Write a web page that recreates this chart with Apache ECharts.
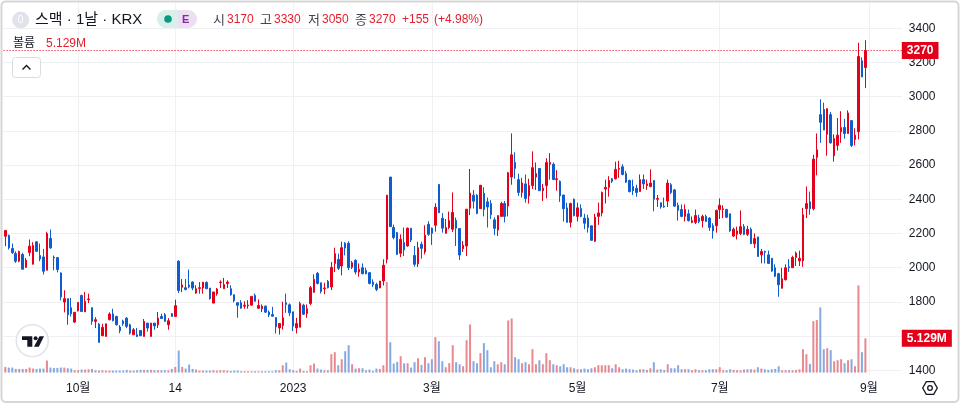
<!DOCTYPE html>
<html><head><meta charset="utf-8">
<style>html,body{margin:0;padding:0;background:#fff}#c{width:960px;height:404px}</style>
<script src="https://cdn.jsdelivr.net/npm/echarts@6/dist/echarts.min.js"></script>
</head><body><div id="c"></div>
<script>
// [open, close, low, high], one row per trading day
const ohlc = [
[2184,2218,2126,2218],[2188,2116,2106,2194],[2112,2087,2081,2141],[2083,2038,2028,2096],[2038,2094,2032,2100],
[2077,1991,1991,2087],[2002,2044,1999,2057],[2089,2126,2067,2165],[2020,2130,2020,2149],[2151,2096,2092,2153],
[2071,2051,2038,2141],[2063,1979,1960,2110],[1985,2200,1985,2210],[2171,2116,2110,2223],[2061,2057,1985,2071],
[2059,1989,1973,2059],[1969,1829,1809,1973],[1799,1819,1739,1868],[1819,1725,1666,1819],[1766,1731,1715,1823],
[1682,1739,1676,1739],[1748,1797,1744,1797],[1838,1744,1744,1842],[1742,1803,1742,1858],[1813,1817,1793,1848],
[1766,1686,1666,1766],[1686,1696,1647,1711],[1670,1563,1563,1676],[1602,1651,1602,1672],[1598,1672,1598,1672],
[1696,1729,1692,1739],[1729,1690,1686,1760],[1715,1666,1662,1719],[1653,1631,1617,1664],[1688,1672,1660,1696],
[1705,1657,1647,1711],[1666,1617,1608,1672],[1608,1637,1608,1647],[1608,1598,1594,1647],[1633,1602,1602,1633],
[1598,1686,1598,1700],[1676,1647,1627,1676],[1598,1676,1598,1676],[1676,1660,1637,1676],[1666,1705,1647,1741],
[1715,1703,1700,1731],[1725,1686,1686,1735],[1666,1690,1637,1705],[1731,1715,1715,1735],[1715,1778,1715,1813],
[2038,1866,1852,2044],[1885,1899,1858,1934],[1883,1872,1868,1934],[1899,1887,1879,1989],[1916,1881,1868,1920],
[1852,1877,1848,1897],[1879,1883,1848,1916],[1881,1916,1848,1916],[1914,1877,1877,1920],[1881,1819,1813,1881],
[1793,1858,1793,1858],[1848,1875,1836,1881],[1913,1916,1881,1926],[1877,1901,1877,1940],[1907,1916,1881,1926],
[1877,1842,1836,1897],[1842,1807,1797,1842],[1795,1780,1707,1797],
[1795,1763,1760,1810],[1775,1781,1760,1804],[1777,1781,1760,1810],[1781,1832,1779,1832],[1838,1804,1802,1849],
[1763,1779,1760,1814],[1760,1775,1740,1785],[1775,1740,1736,1779],[1740,1724,1711,1750],[1726,1716,1716,1771],
[1709,1654,1615,1709],[1648,1674,1609,1674],[1662,1707,1638,1801],[1795,1785,1736,1848],[1783,1736,1717,1791],
[1742,1658,1629,1742],[1648,1674,1615,1707],[1652,1791,1652,1801],[1781,1728,1724,1789],[1732,1760,1707,1785],
[1791,1883,1781,1893],[1857,1932,1853,1961],[1967,1908,1902,1975],[1912,1861,1849,1912],[1877,1881,1845,1912],
[1920,1883,1879,1928],[1887,2002,1869,2033],[2025,2082,1975,2117],[2049,1996,1986,2082],[2010,2117,1955,2152],
[2143,2115,2072,2150],[2143,2000,1986,2154],[2002,2029,1992,2039],[2043,1975,1961,2049],[1975,1990,1947,2025],
[2000,1965,1961,2025],[1984,1965,1961,2000],[1971,1908,1902,1975],[1916,1900,1887,1932],[1902,1873,1863,1912],
[1881,1922,1881,1922],[1922,2014,1896,2049],[2049,2424,2025,2424],[2530,2240,2240,2530],[2235,2176,2166,2252],
[2205,2078,2074,2209],[2084,2166,2062,2195],[2147,2104,2068,2235],[2127,2231,2123,2235],[2231,2162,2150,2231],
[2072,2020,2006,2127],[2023,2117,2004,2152],[2137,2113,2053,2152],[2092,2190,2078,2248],[2254,2195,2186,2272],
[2231,2201,2133,2235],[2248,2354,2211,2377],[2487,2321,2321,2487],[2289,2231,2205,2319],[2201,2235,2201,2284],
[2235,2276,2225,2328],[2225,2323,2209,2440],[2276,2231,2127,2293],[2229,2074,2045,2229],[2111,2131,2092,2156],
[2127,2342,2068,2342],[2348,2436,2307,2577],[2424,2389,2346,2454],[2424,2317,2313,2430],
[2345,2482,2345,2482],[2435,2340,2300,2470],[2385,2355,2235,2410],[2375,2310,2285,2395],[2280,2230,2190,2295],
[2220,2305,2185,2305],[2300,2375,2300,2385],[2375,2300,2265,2390],[2360,2555,2300,2560],[2530,2660,2485,2785],
[2615,2580,2520,2675],[2515,2440,2420,2550],[2440,2495,2410,2525],[2490,2405,2380,2545],[2420,2480,2375,2520],
[2480,2585,2460,2680],[2530,2550,2455,2615],[2580,2450,2450,2580],[2450,2465,2390,2490],[2480,2615,2405,2640],
[2605,2615,2515,2670],[2605,2515,2515,2615],[2515,2520,2450,2570],[2505,2420,2385,2510],[2425,2345,2270,2425],
[2350,2265,2265,2380],[2265,2375,2235,2380],[2400,2305,2300,2405],[2300,2350,2270,2380],[2345,2300,2295,2370],
[2290,2260,2225,2315],[2290,2235,2205,2310],[2245,2160,2160,2245],[2155,2295,2150,2315],[2300,2320,2250,2380],
[2320,2440,2300,2445],[2460,2470,2375,2515],[2470,2510,2415,2535],[2520,2505,2495,2525],[2520,2575,2515,2620],
[2575,2580,2525,2625],[2590,2545,2540,2605],[2550,2500,2495,2565],[2510,2445,2440,2515],[2475,2450,2425,2515],
[2465,2440,2415,2485],[2445,2515,2445,2545],[2515,2490,2460,2545],[2480,2490,2455,2515],[2475,2495,2470,2575],
[2510,2400,2330,2510],[2400,2405,2355,2425],[2380,2355,2345,2380],[2360,2355,2350,2410],[2390,2495,2355,2515],
[2485,2440,2430,2495],[2455,2360,2355,2460],[2365,2335,2275,2380],[2340,2300,2295,2370],[2300,2340,2270,2370],
[2315,2275,2270,2340],[2265,2275,2260,2300],[2265,2305,2255,2340],[2290,2270,2260,2310],[2275,2300,2235,2310],
[2300,2270,2270,2310],[2290,2235,2215,2295],[2245,2215,2170,2260],[2245,2335,2205,2340],[2340,2365,2285,2405],
[2340,2345,2290,2365],[2340,2295,2290,2345],[2315,2215,2210,2315],[2185,2225,2180,2235],[2195,2215,2165,2240],
[2200,2240,2190,2335],[2240,2195,2190,2255],[2195,2225,2185,2245],[2225,2140,2140,2235],[2140,2170,2115,2200],
[2180,2065,2065,2180],[2075,2095,2025,2110],[2095,2090,2025,2100],[2075,2025,2025,2100],[2055,1980,1975,2055],
[2000,1950,1945,2020],[1965,1900,1830,1970],
[1880,1935,1878,2000],[1930,2000,1925,2020],[2005,2000,1975,2050],[2000,2060,2000,2070],[2060,2085,2010,2095],
[2040,2055,2010,2100],[2040,2310,2005,2350],
[2345,2375,2290,2475],[2385,2345,2310,2445],[2345,2635,2335,2660],[2645,2690,2540,2785],[2895,2850,2730,2985],
[2925,2805,2805,2965],[2780,2930,2655,2930],[2895,2730,2725,2910],[2655,2755,2620,2780],[2715,2775,2685,2875],
[2795,2820,2730,2915],[2820,2785,2755,2870],[2785,2905,2785,2920],[2860,2715,2705,2860],[2750,2775,2715,2815],
[2795,3235,2750,3315],[3210,3115,3115,3230],[3170,3270,3050,3330]
];
// volume in millions of shares, same order as ohlc
const volumes = [
.85,.75,.75,.55,.55,.55,.55,.75,.6,.55,.6,.6,1.8,.75,.7,.7,.75,.75,.65,.6,
.35,.35,.45,.45,.5,.55,.35,.3,.35,.3,.3,.3,.3,.3,.3,.4,.3,.3,.35,.4,
.4,.4,.4,.35,.35,.35,.35,.35,.55,.85,3.3,.85,.6,1.2,.55,.45,.3,.3,.3,.3,
.35,.3,.35,.35,.3,.25,.3,.3,
.2,.2,.2,.2,.2,.2,.2,.2,.2,.2,
.35,.35,1.1,1.5,.5,.35,.25,.6,.25,.2,1.1,1.35,.6,.45,.35,.35,2.75,3.05,1.1,2.0,
3.2,4.1,1.25,.6,.65,.65,.35,.45,.25,.6,.55,1.1,13.55,4.55,1.35,1.6,2.45,1.4,1.4,.75,
1.55,2.15,1.15,2.3,1.4,2.0,5.3,4.7,1.7,.8,1.4,4.1,1.55,1.25,.95,4.85,7.2,1.7,1.4,2.9,
4.4,3.35,.8,1.7,1.25,1.55,1.25,7.8,8.1,2.3,2.0,1.4,1.55,1.25,3.5,1.25,1.85,1.25,2.9,1.85,
1.25,1.1,.95,1.25,.8,.8,.65,.5,.5,.6,.5,.65,.8,1.1,1.1,1.1,1.1,.65,1.25,.8,
.5,.6,.5,.45,.35,.5,.5,.4,.65,1.55,.45,.5,.4,1.25,.65,.65,1.1,.5,.5,.5,
.35,.5,.35,.35,.35,.5,.5,.5,.8,.35,.35,.5,.4,.35,.35,.45,.5,.5,.45,.8,
.6,.5,.4,.5,.55,.95,.35,.35,.35,.35,.4,.5,3.5,2.75,1.3,7.7,7.85,9.75,3.5,3.65,
3.35,1.7,1.85,2.0,1.4,1.85,2.0,.95,13.05,3.05,5.129
];
const tickLabels = {21:'10월',49:'14',83:'2023',123:'3월',165:'5월',206:'7월',249:'9월'};
const priceTicks = [1400,1600,1800,2000,2200,2400,2600,2800,3000,3200,3400];
const priceLabels = [1400,1800,2000,2200,2400,2600,2800,3000,3200,3400];
const slotCount = 259;
const categories = Array.from({length: slotCount}, (_, i) => String(i));
const lastClose = 3270, lastVolume = 5.129;

const RED='#e3001b', BLUE='#0f5ccf', INK='#131722', LINE='#eff0f4', TXT_RED='#e2202f';
const FONT="'Liberation Sans','Noto Sans CJK KR',sans-serif";
const chart = echarts.init(document.getElementById('c'));
const t = (x,y,text,fill,size,extra) => ({type:'text',silent:true,x,y,z:20,style:Object.assign({text,fill,font:`${size||12}px ${FONT}`,textVerticalAlign:'middle',textBaseline:'middle'},extra||{})});
chart.setOption({
  animation:false, backgroundColor:'#fff',
  grid:{left:3.6,right:58.2,top:3.3,bottom:29,containLabel:false},
  xAxis:{type:'category',data:categories,boundaryGap:true,
    axisLine:{show:false},axisTick:{show:false,alignWithLabel:true,interval:(i)=>i in tickLabels},
    splitLine:{show:true,alignWithLabel:true,interval:(i)=>i in tickLabels,lineStyle:{color:LINE,width:1}},
    axisLabel:{interval:(i)=>i in tickLabels,formatter:(v)=>tickLabels[v]||'',color:INK,fontSize:12,fontFamily:FONT,margin:8,hideOverlap:false}},
  yAxis:[
    {type:'value',position:'right',min:1372.5,max:3546,scale:true,
     axisLine:{show:false},axisTick:{show:false,customValues:priceTicks},
     splitLine:{show:true,lineStyle:{color:LINE,width:1}},
     axisLabel:{customValues:priceLabels,formatter:(v)=>String(v),color:INK,fontSize:12,fontFamily:FONT,margin:7,padding:[4,0,0,0],showMinLabel:true,showMaxLabel:true}},
    {type:'value',show:false,min:-0.36,max:55.25,splitLine:{show:false}}
  ],
  series:[
    {type:'bar',yAxisIndex:1,barWidth:2,z:1,silent:true,
     data:volumes.map((v,i)=>({value:v,itemStyle:{color:ohlc[i][1]>=ohlc[i][0]?'#e8898f':'#85a9e0'}})),
     markLine:{silent:true,symbol:'none',animation:false,z:10,lineStyle:{color:'rgba(0,0,0,0)',width:1},
       label:{show:true,position:'end',distance:0,formatter:'5.129M',color:'#fff',fontWeight:'bold',fontSize:12,fontFamily:FONT,backgroundColor:RED,padding:[3,5,2,5]},
       data:[{yAxis:lastVolume}]}},
    {type:'candlestick',yAxisIndex:0,barWidth:2,z:2,silent:true,data:ohlc,
     itemStyle:{color:RED,color0:BLUE,borderColor:RED,borderColor0:BLUE,borderWidth:1},
     markLine:{silent:true,symbol:'none',animation:false,z:10,lineStyle:{color:RED,type:[1,2],width:1},
       label:{show:true,position:'end',distance:0,formatter:String(lastClose),color:'#fff',fontWeight:'bold',fontSize:12,fontFamily:FONT,backgroundColor:RED,padding:[3,5,2,5]},
       data:[{yAxis:lastClose}]}}
  ],
  graphic:[
    {type:'rect',silent:true,z:30,shape:{x:1.5,y:1.5,width:957,height:400.5,r:4},style:{fill:'none',stroke:'#d6d6d6',lineWidth:2}},
    {type:'circle',silent:true,z:20,shape:{cx:20.7,cy:20,r:8.5},style:{fill:'#e0e3eb'}},
    t(17.8,20,'0','#fff',10),
    t(35,20,'스맥 · 1날 · KRX',INK,15),
    {type:'rect',silent:true,z:19,shape:{x:157,y:10,width:40,height:18,r:9},style:{fill:'#ecdff2'}},
    {type:'rect',silent:true,z:19,shape:{x:157,y:10,width:21,height:18,r:[9,0,0,9]},style:{fill:'#d8efea'}},
    {type:'circle',silent:true,z:20,shape:{cx:168,cy:19,r:3.8},style:{fill:'#089981'}},
    t(182,19.5,'E','#8e24aa',11,{font:`bold 11px ${FONT}`}),
    t(213,20,'시','#434651',13), t(227,20,'3170',TXT_RED,12),
    t(260,20,'고','#434651',13), t(274,20,'3330',TXT_RED,12),
    t(308,20,'저','#434651',13), t(322,20,'3050',TXT_RED,12),
    t(355,20,'종','#434651',13), t(369,20,'3270',TXT_RED,12),
    t(402,20,'+155',TXT_RED,12), t(434,20,'(+4.98%)',TXT_RED,12),
    t(13,44,'볼륨',INK,12), t(46,44,'5.129M',TXT_RED,12),
    {type:'rect',silent:true,z:20,shape:{x:12.5,y:57.5,width:28,height:20,r:3},style:{fill:'#fff',stroke:'#d9dbe2',lineWidth:1}},
    {type:'polyline',silent:true,z:21,shape:{points:[[22.5,69.5],[26.5,65.5],[30.5,69.5]]},style:{fill:'none',stroke:INK,lineWidth:1.4}},
    {type:'circle',silent:true,z:20,shape:{cx:32.3,cy:340.7,r:16},style:{fill:'#fff',stroke:'#e0e3eb',lineWidth:1.5}},
    {type:'polygon',silent:true,z:21,shape:{points:[[22,336.3],[32.3,336.3],[32.3,346.7],[27.3,346.7],[27.3,340],[22,340]]},style:{fill:INK}},
    {type:'circle',silent:true,z:21,shape:{cx:35.6,cy:338.2,r:2},style:{fill:INK}},
    {type:'polygon',silent:true,z:21,shape:{points:[[44,336.3],[39.5,336.3],[34,346.7],[38.8,346.7]]},style:{fill:INK}},
    {type:'polygon',silent:true,z:21,shape:{points:[[922.7,388],[926.3,381.7],[933.7,381.7],[937.3,388],[933.7,394.3],[926.3,394.3]]},style:{fill:'none',stroke:INK,lineWidth:1.3}},
    {type:'circle',silent:true,z:21,shape:{cx:930,cy:388,r:2.3},style:{fill:'none',stroke:INK,lineWidth:1.3}}
  ]
});
</script></body></html>
